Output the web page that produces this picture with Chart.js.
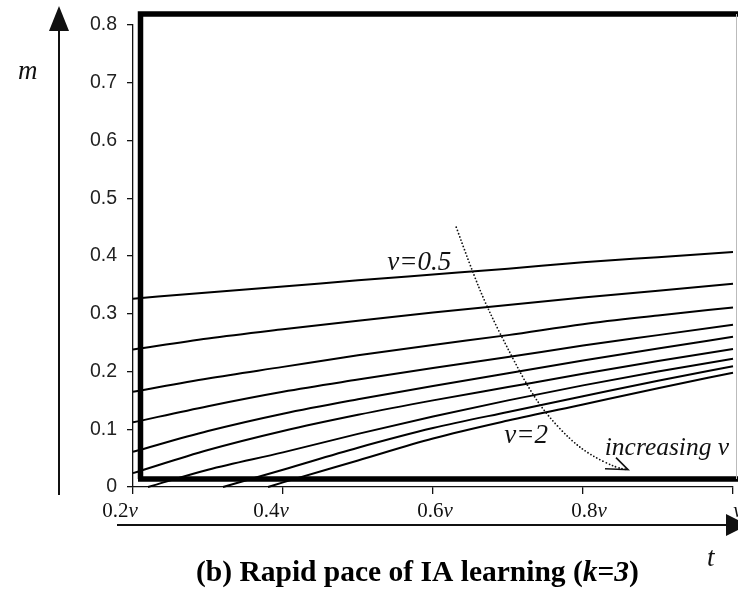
<!DOCTYPE html>
<html>
<head>
<meta charset="utf-8">
<script src="https://cdn.jsdelivr.net/npm/chart.js@4.4.1/dist/chart.umd.min.js"></script>
<style>
  html, body { margin: 0; padding: 0; background: #fff; }
  #wrap { width: 738px; height: 591px; position: relative; }
</style>
</head>
<body>
<div id="wrap"><canvas id="c" width="738" height="591"></canvas></div>
<script>
// Time grid, as fractions of v, and the m value of each curve on that grid
const tGrid   = [0.2, 0.3, 0.4, 0.5, 0.6, 0.7, 0.8, 0.9, 1.0];
const mV05    = [0.326, 0.337, 0.347, 0.358, 0.368, 0.378, 0.389, 0.398, 0.407];
const mCurve2 = [0.238, 0.257, 0.273, 0.288, 0.302, 0.315, 0.328, 0.340, 0.352];
const mCurve3 = [0.165, 0.188, 0.208, 0.228, 0.246, 0.263, 0.282, 0.297, 0.311];
const mCurve4 = [0.112, 0.140, 0.165, 0.186, 0.206, 0.225, 0.245, 0.263, 0.281];
const mCurve5 = [0.061, 0.097, 0.127, 0.152, 0.175, 0.197, 0.219, 0.240, 0.260];
const mCurve6 = [0.024, 0.064, 0.097, 0.125, 0.150, 0.173, 0.196, 0.218, 0.239];
const mCurve7 = [null, 0.030, 0.060, 0.092, 0.122, 0.150, 0.176, 0.200, 0.222];
const mCurve8 = [null, null, 0.030, 0.068, 0.102, 0.130, 0.157, 0.184, 0.209];
const mV2     = [null, null, 0.008, 0.046, 0.084, 0.115, 0.143, 0.171, 0.198];

// t at which the later curves leave m = 0
const onsetCurve7 = 0.22;
const onsetCurve8 = 0.32;
const onsetV2     = 0.38;

// Axis ticks
const xTickValues = [0.2, 0.4, 0.6, 0.8, 1.0];
const xTickNumbers = ['0.2', '0.4', '0.6', '0.8', ''];
const yTickLabels = ['0', '0.1', '0.2', '0.3', '0.4', '0.5', '0.6', '0.7', '0.8'];

// Dotted "increasing v" arrow, in (t, m)
const arrowT = [0.631, 0.649, 0.672, 0.705, 0.729, 0.752, 0.783, 0.809, 0.845, 0.860];
const arrowM = [0.450, 0.385, 0.311, 0.226, 0.168, 0.125, 0.082, 0.056, 0.033, 0.030];

function toPoints(mValues, onset) {
  const pts = [];
  if (onset !== undefined) pts.push({ x: onset, y: 0 });
  tGrid.forEach((t, i) => {
    if (mValues[i] !== null) pts.push({ x: t, y: mValues[i] });
  });
  return pts;
}

const curves = [
  toPoints(mV05), toPoints(mCurve2), toPoints(mCurve3), toPoints(mCurve4),
  toPoints(mCurve5), toPoints(mCurve6), toPoints(mCurve7, onsetCurve7),
  toPoints(mCurve8, onsetCurve8), toPoints(mV2, onsetV2)
];

const SERIF = '"Liberation Serif", "DejaVu Serif", serif';
const SANS = '"Liberation Sans", Arial, sans-serif';

// Draw a run of differently styled pieces on one baseline
function drawRuns(ctx, runs, x, y, align) {
  let total = 0;
  runs.forEach(r => { ctx.font = r.font; total += ctx.measureText(r.text).width; });
  let cx = align === 'center' ? x - total / 2 : x;
  ctx.textAlign = 'left';
  runs.forEach(r => {
    ctx.font = r.font;
    ctx.fillText(r.text, cx, y);
    cx += ctx.measureText(r.text).width;
  });
}

const decor = {
  id: 'decor',
  beforeDatasetsDraw(chart) {
    const { ctx, chartArea: a } = chart;
    ctx.save();
    // heavy frame around the plotting region
    ctx.strokeStyle = '#000';
    ctx.lineWidth = 5.5;
    ctx.beginPath();
    ctx.moveTo(a.left + 7.5, a.bottom - 8);
    ctx.lineTo(a.left + 7.5, a.top - 11);
    ctx.lineTo(chart.width + 5, a.top - 11);
    ctx.moveTo(a.left + 5, a.bottom - 8);
    ctx.lineTo(chart.width + 5, a.bottom - 8);
    ctx.stroke();
    // faint right edge
    ctx.strokeStyle = '#bbb';
    ctx.lineWidth = 1;
    ctx.beginPath();
    ctx.moveTo(a.right + 3.5, a.top - 11);
    ctx.lineTo(a.right + 3.5, a.bottom - 8);
    ctx.stroke();
    ctx.restore();
  },
  afterDraw(chart) {
    const { ctx, chartArea: a } = chart;
    const xs = chart.scales.x, ys = chart.scales.y;
    ctx.save();
    ctx.fillStyle = '#111';
    ctx.strokeStyle = '#111';

    // x tick labels: number + italic v
    const nudges = [-13, -12, 2, 6, 5];
    ctx.textBaseline = 'alphabetic';
    xTickValues.forEach((t, i) => {
      const px = xs.getPixelForValue(t) + nudges[i];
      drawRuns(ctx, [
        { text: xTickNumbers[i], font: '21px ' + SERIF },
        { text: 'v', font: 'italic 21px ' + SERIF }
      ], px, a.bottom + 30, 'center');
    });

    // outer axis arrows
    ctx.lineWidth = 2;
    ctx.beginPath();
    ctx.moveTo(59, 30); ctx.lineTo(59, 495);
    ctx.moveTo(117, 525); ctx.lineTo(728, 525);
    ctx.stroke();
    ctx.beginPath();
    ctx.moveTo(59, 6); ctx.lineTo(69, 31); ctx.lineTo(49, 31); ctx.closePath();
    ctx.fill();
    ctx.beginPath();
    ctx.moveTo(748, 525); ctx.lineTo(726, 514); ctx.lineTo(726, 536); ctx.closePath();
    ctx.fill();

    // axis names
    ctx.font = 'italic 27px ' + SERIF;
    ctx.textAlign = 'left';
    ctx.fillText('m', 18, 79);
    ctx.fillText('t', 707, 566);

    // curve labels
    ctx.font = 'italic 27px ' + SERIF;
    ctx.fillText('v=0.5', xs.getPixelForValue(0.539), ys.getPixelForValue(0.375));
    ctx.fillText('v=2', xs.getPixelForValue(0.695), ys.getPixelForValue(0.076));
    ctx.font = 'italic 25.5px ' + SERIF;
    ctx.fillText('increasing v', xs.getPixelForValue(0.829), ys.getPixelForValue(0.056));

    // dotted arrow
    const pts = arrowT.map((t, i) => [xs.getPixelForValue(t), ys.getPixelForValue(arrowM[i])]);
    ctx.setLineDash([0, 3.4]);
    ctx.lineCap = 'round';
    ctx.lineWidth = 1.8;
    ctx.beginPath();
    ctx.moveTo(pts[0][0], pts[0][1]);
    for (let i = 1; i < pts.length - 1; i++) {
      const mx = (pts[i][0] + pts[i + 1][0]) / 2, my = (pts[i][1] + pts[i + 1][1]) / 2;
      ctx.quadraticCurveTo(pts[i][0], pts[i][1], mx, my);
    }
    const tip = pts[pts.length - 1];
    ctx.lineTo(tip[0], tip[1]);
    ctx.stroke();
    ctx.setLineDash([]);
    ctx.lineCap = 'butt';
    ctx.lineWidth = 1.6;
    ctx.beginPath();
    ctx.moveTo(tip[0] - 23, tip[1] - 1);
    ctx.lineTo(tip[0], tip[1]);
    ctx.lineTo(tip[0] - 12, tip[1] - 12);
    ctx.stroke();

    // caption
    ctx.fillStyle = '#000';
    drawRuns(ctx, [
      { text: '(b) Rapid pace of IA learning (', font: 'bold 29.5px ' + SERIF },
      { text: 'k', font: 'italic bold 29.5px ' + SERIF },
      { text: '=', font: 'bold 29.5px ' + SERIF },
      { text: '3', font: 'italic bold 29.5px ' + SERIF },
      { text: ')', font: 'bold 29.5px ' + SERIF }
    ], 196, 581, 'left');
    ctx.restore();
  }
};

new Chart(document.getElementById('c'), {
  type: 'scatter',
  data: {
    datasets: curves.map(pts => ({
      data: pts,
      showLine: true,
      borderColor: '#000',
      borderWidth: 2,
      pointRadius: 0,
      cubicInterpolationMode: 'monotone',
      clip: false
    }))
  },
  options: {
    responsive: false,
    animation: false,
    layout: { padding: { top: 25, right: 5, left: 0, bottom: 0 } },
    plugins: { legend: { display: false }, tooltip: { enabled: false }, title: { display: false } },
    scales: {
      x: {
        type: 'linear',
        min: 0.2, max: 1.0,
        afterBuildTicks: s => { s.ticks = xTickValues.map(v => ({ value: v })); },
        afterFit: s => { s.height = 104; },
        ticks: { display: false },
        grid: { drawOnChartArea: false, drawTicks: true, tickLength: 7, color: '#111', lineWidth: 1.3 },
        border: { display: true, color: '#111', width: 1.3 }
      },
      y: {
        type: 'linear',
        min: 0, max: 0.8,
        afterBuildTicks: s => { s.ticks = yTickLabels.map((_, i) => ({ value: i / 10 })); },
        afterFit: s => { s.width = 133; },
        ticks: {
          padding: 10,
          color: '#222',
          font: { family: SANS, size: 19.5 },
          callback: (v, i) => yTickLabels[i]
        },
        grid: { drawOnChartArea: false, drawTicks: true, tickLength: 6, color: '#111', lineWidth: 1.3 },
        border: { display: true, color: '#111', width: 1.3 }
      }
    }
  },
  plugins: [decor]
});
</script>
</body>
</html>
